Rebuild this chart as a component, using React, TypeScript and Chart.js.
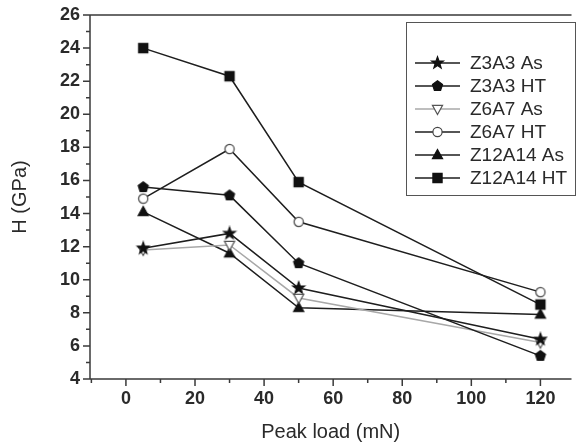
import React, { useEffect, useRef } from 'react';
import { Chart, registerables } from 'chart.js';
Chart.register(...registerables);

// ---- data ----
const loads = [5, 30, 50, 120];
const seriesLabels = ['Z3A3 As', 'Z3A3 HT', 'Z6A7 As', 'Z6A7 HT', 'Z12A14 As', 'Z12A14 HT'];
const z3a3As = [11.9, 12.8, 9.5, 6.4];
const z3a3HT = [15.6, 15.1, 11.0, 5.4];
const z6a7As = [11.8, 12.1, 8.9, 6.2];
const z6a7HT = [14.9, 17.9, 13.5, 9.25];
const z12a14As = [14.1, 11.6, 8.3, 7.9];
const z12a14HT = [24.0, 22.3, 15.9, 8.5];
const seriesValues = [z3a3As, z3a3HT, z6a7As, z6a7HT, z12a14As, z12a14HT];
const xTickValues = [0, 20, 40, 60, 80, 100, 120];
const yTickValues = [4, 6, 8, 10, 12, 14, 16, 18, 20, 22, 24, 26];

const W = 578;
const H = 447;
const FAMILY = '"Liberation Sans", Arial, Helvetica, sans-serif';

type Sty = { marker: string; line: string; fill: string; stroke: string };
const styles: Sty[] = [
  { marker: 'star', line: '#1e1e1e', fill: '#111', stroke: '#111' },
  { marker: 'pentagon', line: '#1e1e1e', fill: '#111', stroke: '#111' },
  { marker: 'triDown', line: '#a8a8a8', fill: '#fff', stroke: '#555' },
  { marker: 'circle', line: '#1e1e1e', fill: '#fff', stroke: '#444' },
  { marker: 'triUp', line: '#1e1e1e', fill: '#111', stroke: '#111' },
  { marker: 'square', line: '#1e1e1e', fill: '#111', stroke: '#111' },
];

function drawMarker(ctx: CanvasRenderingContext2D, kind: string, x: number, y: number, r: number, fill: string, stroke: string) {
  ctx.save();
  ctx.beginPath();
  if (kind === 'square') {
    ctx.rect(x - r, y - r, 2 * r, 2 * r);
  } else if (kind === 'circle') {
    ctx.arc(x, y, r, 0, Math.PI * 2);
  } else if (kind === 'triUp') {
    ctx.moveTo(x, y - r * 1.2);
    ctx.lineTo(x + r * 1.1, y + r * 0.8);
    ctx.lineTo(x - r * 1.1, y + r * 0.8);
  } else if (kind === 'triDown') {
    ctx.moveTo(x, y + r * 1.2);
    ctx.lineTo(x + r * 1.1, y - r * 0.8);
    ctx.lineTo(x - r * 1.1, y - r * 0.8);
  } else if (kind === 'pentagon') {
    for (let k = 0; k < 5; k++) {
      const a = -Math.PI / 2 + (k * 2 * Math.PI) / 5;
      const px = x + Math.cos(a) * r * 1.15;
      const py = y + Math.sin(a) * r * 1.15;
      if (k === 0) ctx.moveTo(px, py);
      else ctx.lineTo(px, py);
    }
  } else if (kind === 'star') {
    for (let k = 0; k < 10; k++) {
      const a = -Math.PI / 2 + (k * Math.PI) / 5;
      const rr = k % 2 === 0 ? r * 1.35 : r * 0.55;
      const px = x + Math.cos(a) * rr;
      const py = y + Math.sin(a) * rr;
      if (k === 0) ctx.moveTo(px, py);
      else ctx.lineTo(px, py);
    }
  }
  ctx.closePath();
  ctx.fillStyle = fill;
  ctx.fill();
  ctx.lineWidth = 1.2;
  ctx.strokeStyle = stroke;
  ctx.stroke();
  ctx.restore();
}

function makeMarkerCanvas(s: Sty): HTMLCanvasElement {
  const c = document.createElement('canvas');
  c.width = 16;
  c.height = 16;
  const ctx = c.getContext('2d')!;
  drawMarker(ctx, s.marker, 8, 8, 4.6, s.fill, s.stroke);
  return c;
}

const decorPlugin = {
  id: 'decor',
  afterDraw(chart: any) {
    const { ctx, chartArea: a, scales } = chart;
    const x = scales.x;
    const y = scales.y;
    ctx.save();
    ctx.strokeStyle = '#3a3a3a';
    ctx.lineWidth = 1.5;
    ctx.beginPath();
    ctx.moveTo(a.left, a.top);
    ctx.lineTo(a.right, a.top);
    ctx.moveTo(a.left, a.top);
    ctx.lineTo(a.left, a.bottom);
    ctx.lineTo(a.right, a.bottom);
    // y ticks
    for (let v = y.min; v <= y.max; v += 1) {
      const py = y.getPixelForValue(v);
      const len = v % 2 === 0 ? 7 : 4;
      ctx.moveTo(a.left - len, py);
      ctx.lineTo(a.left, py);
    }
    // x ticks
    for (let v = -10; v <= x.max; v += 10) {
      if (v < x.min) continue;
      const px = x.getPixelForValue(v);
      const len = v % 20 === 0 ? 7 : 4;
      ctx.moveTo(px, a.bottom);
      ctx.lineTo(px, a.bottom + len);
    }
    ctx.stroke();

    // legend
    const bx = 406, by = 22, bw = 169, bh = 173;
    ctx.fillStyle = '#fff';
    ctx.fillRect(bx, by, bw, bh);
    ctx.lineWidth = 1;
    ctx.strokeStyle = '#555';
    ctx.strokeRect(bx + 0.5, by + 0.5, bw, bh);
    ctx.font = `19px ${FAMILY}`;
    ctx.textBaseline = 'middle';
    ctx.textAlign = 'left';
    for (let i = 0; i < seriesLabels.length; i++) {
      const s = styles[i];
      const ly = 63 + 23 * i;
      ctx.beginPath();
      ctx.strokeStyle = s.line;
      ctx.lineWidth = 1.5;
      ctx.moveTo(415, ly);
      ctx.lineTo(460, ly);
      ctx.stroke();
      drawMarker(ctx, s.marker, 437.5, ly, 4.6, s.fill, s.stroke);
      ctx.fillStyle = '#2a2a2a';
      ctx.fillText(seriesLabels[i], 470, ly + 1);
    }
    ctx.restore();
  },
};

export default function App() {
  const ref = useRef<HTMLCanvasElement>(null);
  useEffect(() => {
    if (!ref.current) return;
    const datasets = seriesLabels.map((label, i) => {
      const s = styles[i];
      return {
        label,
        data: loads.map((l, j) => ({ x: l, y: seriesValues[i][j] })),
        borderColor: s.line,
        borderWidth: 1.5,
        pointStyle: makeMarkerCanvas(s) as any,
        pointRadius: 5,
        fill: false,
        tension: 0,
      };
    });
    const chart = new Chart(ref.current, {
      type: 'line',
      data: { datasets },
      plugins: [decorPlugin],
      options: {
        animation: false,
        responsive: false,
        layout: { padding: { top: 15, left: 0, right: 0, bottom: 0 } },
        plugins: { legend: { display: false }, tooltip: { enabled: false } },
        scales: {
          x: {
            type: 'linear',
            min: -10.4,
            max: 129,
            grid: { display: false, drawTicks: false },
            border: { display: false },
            afterBuildTicks: (s: any) => {
              s.ticks = xTickValues.map((v) => ({ value: v }));
            },
            afterFit: (s: any) => {
              s.height = 68;
              s.paddingLeft = 0;
              s.paddingRight = 0;
            },
            ticks: {
              autoSkip: false,
              maxRotation: 0,
              padding: 9,
              color: '#2a2a2a',
              font: { family: FAMILY, size: 18, weight: 'bold' },
            },
            title: {
              display: true,
              text: 'Peak load (mN)',
              color: '#2a2a2a',
              font: { family: FAMILY, size: 20 },
              padding: { top: 0, bottom: 3 },
            },
          },
          y: {
            type: 'linear',
            min: 4,
            max: 26,
            grid: { display: false, drawTicks: false },
            border: { display: false },
            afterBuildTicks: (s: any) => {
              s.ticks = yTickValues.map((v) => ({ value: v }));
            },
            afterFit: (s: any) => {
              s.width = 90;
              s.paddingTop = 0;
              s.paddingBottom = 0;
            },
            ticks: {
              autoSkip: false,
              padding: 10,
              color: '#2a2a2a',
              font: { family: FAMILY, size: 18, weight: 'bold' },
            },
            title: {
              display: true,
              text: 'H (GPa)',
              color: '#2a2a2a',
              font: { family: FAMILY, size: 20 },
              padding: { top: 8, bottom: 0 },
            },
          },
        },
      } as any,
    });
    return () => chart.destroy();
  }, []);
  return (
    <div style={{ position: 'fixed', left: 0, top: 0, width: W, height: H, overflow: 'hidden', background: '#fff' }}>
      <canvas ref={ref} width={W} height={H} style={{ display: 'block', width: W, height: H }} />
    </div>
  );
}
